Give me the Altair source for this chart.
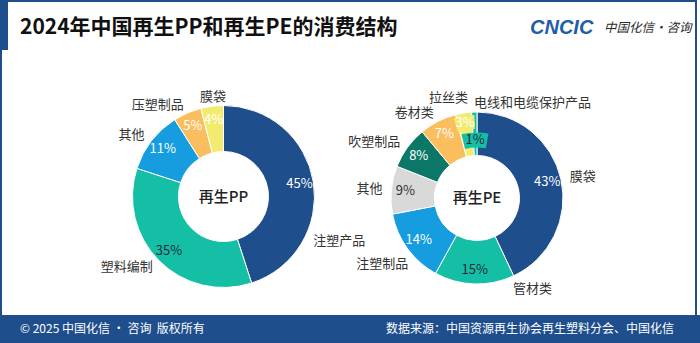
import math
import altair as alt
import pandas as pd

# ---------------- data ----------------
pp_categories = ["注塑产品", "塑料编制", "其他", "压塑制品", "膜袋"]
pp_values = [45, 35, 11, 5, 4]

pe_categories = ["膜袋", "管材类", "注塑制品", "其他", "吹塑制品", "卷材类", "拉丝类", "电线和电缆保护产品"]
pe_values = [43, 15, 14, 9, 8, 7, 3, 1]

# ---------------- styles ----------------
DARK = "#1f4e8c"
TEAL = "#15bfa5"
BLUE = "#169de0"
ORANGE = "#fbbe5e"
YELLOW = "#f1ec70"
GRAY = "#d9d9d9"
GREEN = "#0b7867"

pp_colors = [DARK, TEAL, BLUE, ORANGE, YELLOW]
pe_colors = [DARK, TEAL, BLUE, GRAY, GREEN, ORANGE, YELLOW, TEAL]
pp_text_colors = ["white", "#1c2b36", "white", "white", "white"]
pe_text_colors = ["white", "#1c2b36", "white", "#333333", "white", "white", "white", "#1c2b36"]

# label layout nudges (pixels) for outer category labels
pp_nudges = {"注塑产品": (-9, 60), "膜袋": (15, 0)}
pe_nudges = {"管材类": (78, -4), "注塑制品": (8, 10), "拉丝类": (6, -6)}

FONT = "Noto Sans CJK SC"
W, H = 700, 343


def build(cats, vals, colors, tcolors):
    df = pd.DataFrame({"cat": cats, "v": vals, "color": colors, "tcolor": tcolors})
    df["end"] = df["v"].cumsum()
    df["start"] = df["end"] - df["v"]
    df["mid"] = (df["start"] + df["end"]) / 2
    df["pct"] = df["v"].astype(str) + "%"
    return df


theta_scale = alt.Scale(domain=[0, 100], range=[0, 2 * math.pi])


def donut(df, cx, cy, r_in, r_out, r_pct, r_small, r_lab, center_text, nudges):
    base = alt.Chart(df).encode(x=alt.value(cx), y=alt.value(cy))
    arcs = base.mark_arc(innerRadius=r_in, outerRadius=r_out, stroke="white", strokeWidth=1).encode(
        theta=alt.Theta("start:Q", scale=theta_scale, stack=False),
        theta2="end:Q",
        color=alt.Color("color:N", scale=None),
    )
    mid_theta = alt.Theta("mid:Q", scale=theta_scale, stack=False)
    r_tiny = r_pct + 4
    # label background boxes for tiny slices
    box_big = base.transform_filter("datum.v >= 2 && datum.v <= 3").transform_calculate(
        b0="datum.mid - 2.0", b1="datum.mid + 2.0"
    ).mark_arc(innerRadius=r_tiny - 7, outerRadius=r_tiny + 7).encode(
        theta=alt.Theta("b0:Q", scale=theta_scale, stack=False), theta2="b1:Q",
        color=alt.Color("color:N", scale=None),
    )
    box_small = base.transform_filter("datum.v < 2").transform_calculate(
        b0="datum.mid - 3.3", b1="datum.mid + 3.3"
    ).mark_arc(innerRadius=r_small - 7.5, outerRadius=r_small + 7.5).encode(
        theta=alt.Theta("b0:Q", scale=theta_scale, stack=False), theta2="b1:Q",
        color=alt.Color("color:N", scale=None),
    )
    pct = base.transform_filter("datum.v > 3").mark_text(
        radius=r_pct, font=FONT, fontSize=13, baseline="middle", align="center"
    ).encode(theta=mid_theta, text="pct:N", color=alt.Color("tcolor:N", scale=None))
    pct_tiny = base.transform_filter("datum.v >= 2 && datum.v <= 3").mark_text(
        radius=r_tiny, font=FONT, fontSize=13, baseline="middle", align="center"
    ).encode(theta=mid_theta, text="pct:N", color=alt.Color("tcolor:N", scale=None))
    pct_small = base.transform_filter("datum.v < 2").mark_text(
        radius=r_small, font=FONT, fontSize=13, baseline="middle", align="center"
    ).encode(theta=mid_theta, text="pct:N", color=alt.Color("tcolor:N", scale=None))

    nudged = list(nudges.keys())
    not_nudged = alt.FieldOneOfPredicate(field="cat", oneOf=nudged)
    layers = [arcs, box_big, box_small, pct, pct_tiny, pct_small]
    for side_expr, align in (("datum.mid > 50 && datum.mid < 99", "right"),
                             ("datum.mid <= 50 || datum.mid >= 99", "left")):
        layers.append(
            base.transform_filter({"not": not_nudged}).transform_filter(side_expr).mark_text(
                radius=r_lab, font=FONT, fontSize=13, baseline="middle", align=align, color="#333333"
            ).encode(theta=mid_theta, text="cat:N")
        )
        for cat, (dx, dy) in nudges.items():
            layers.append(
                base.transform_filter(alt.FieldEqualPredicate(field="cat", equal=cat)).transform_filter(
                    side_expr
                ).mark_text(
                    radius=r_lab, font=FONT, fontSize=13, baseline="middle", align=align,
                    color="#333333", dx=dx, dy=dy,
                ).encode(theta=mid_theta, text="cat:N")
            )
    center = alt.Chart(pd.DataFrame({"t": [center_text]})).mark_text(
        font=FONT, fontSize=15, fontWeight=500, color="#222222", baseline="middle", align="center"
    ).encode(x=alt.value(cx), y=alt.value(cy), text="t:N")
    layers.append(center)
    return layers


pp = build(pp_categories, pp_values, pp_colors, pp_text_colors)
pe = build(pe_categories, pe_values, pe_colors, pe_text_colors)

one = pd.DataFrame({"a": [0]})


def rect(x, x2, y, y2, color):
    return alt.Chart(one).mark_rect(color=color).encode(
        x=alt.value(x), x2=alt.value(x2), y=alt.value(y), y2=alt.value(y2)
    )


def label(text, x, y, size, color, align="left", weight="normal", font=FONT, style="normal"):
    return alt.Chart(pd.DataFrame({"t": [text]})).mark_text(
        font=font, fontSize=size, color=color, align=align, baseline="middle",
        fontWeight=weight, fontStyle=style,
    ).encode(x=alt.value(x), y=alt.value(y), text="t:N")


decor = [
    rect(0, 697, 0, 2, DARK),        # top border
    rect(0, 8, 0, 50, DARK),         # left accent bar
    rect(0, 2, 0, 316, DARK),        # left border
    rect(695, 697, 0, 316, DARK),    # right border
    rect(0, W, 315, H, DARK),        # footer band
    label("2024年中国再生PP和再生PE的消费结构", 20, 28, 21, "#111111", weight="bold"),
    label("CNCIC", 530, 28, 20, "#1f5fa8", weight="bold", font="Liberation Sans", style="italic"),
    label("中国化信·咨询", 604, 28, 12.5, "#2a2a2a", style="italic"),
    label("© 2025 中国化信 • 咨询\u00a0\u00a0版权所有", 20, 329, 12, "white"),
    label("数据来源：中国资源再生协会再生塑料分会、中国化信", 674, 329, 12, "white", align="right"),
]

layers = decor + donut(pp, 223.5, 196.5, 45, 91, 77, 60, 100, "再生PP", pp_nudges) + donut(
    pe, 477, 198, 42.5, 86, 72, 58, 95, "再生PE", pe_nudges
)

chart = alt.layer(*layers).properties(
    width=W, height=H, padding=0, autosize=alt.AutoSizeParams(type="none"), background="white"
).configure_view(stroke=None)

chart.save("out.html", embed_options={"renderer": "svg", "actions": False})
